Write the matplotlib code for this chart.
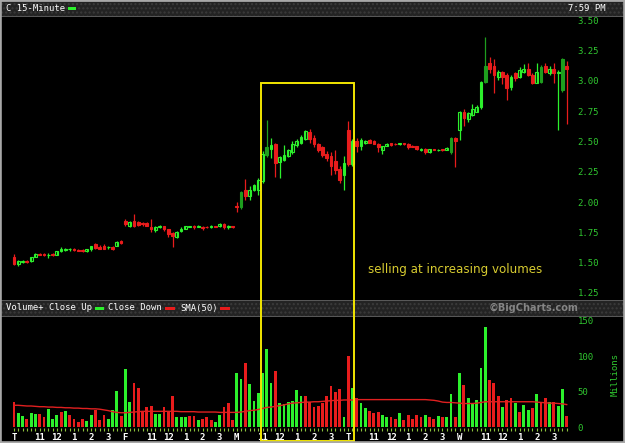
import numpy as np
import matplotlib
matplotlib.use('Agg')
import matplotlib.pyplot as plt
from matplotlib.patches import Rectangle

FIG_W, FIG_H = 625, 443

DAYS = ['T', 'F', 'M', 'T', 'W']
HOURS = ['11', '12', '1', '2', '3']
BARS_PER_DAY = 26
HOUR_BARS = [6, 10, 14, 18, 22]  # 15-minute bars after the 9:30 open

# one block per trading day, 26 bars each
OPEN = [
    1.55, 1.49, 1.505, 1.515, 1.51, 1.55, 1.575, 1.57, 1.565, 1.57, 1.565, 1.595, 1.605,
    1.61, 1.615, 1.605, 1.605, 1.595, 1.61, 1.65, 1.625, 1.64, 1.625, 1.625, 1.64, 1.675,
    1.845, 1.80, 1.84, 1.835, 1.83, 1.825, 1.795, 1.77, 1.79, 1.80, 1.775, 1.745, 1.715,
    1.76, 1.78, 1.795, 1.80, 1.795, 1.795, 1.795, 1.79, 1.80, 1.80, 1.82, 1.795, 1.80,
    1.97, 1.955, 2.10, 2.05, 2.10, 2.10, 2.17, 2.385, 2.44, 2.48, 2.33, 2.35, 2.38,
    2.41, 2.47, 2.49, 2.52, 2.58, 2.53, 2.48, 2.45, 2.40, 2.38, 2.34, 2.27, 2.22,
    2.59, 2.31, 2.50, 2.46, 2.49, 2.51, 2.50, 2.48, 2.43, 2.465, 2.485, 2.48, 2.475,
    2.485, 2.48, 2.465, 2.46, 2.425, 2.44, 2.41, 2.435, 2.43, 2.435, 2.43, 2.41, 2.53,
    2.59, 2.74, 2.685, 2.72, 2.745, 2.78, 2.99, 3.15, 3.12, 3.03, 3.07, 3.05, 2.95,
    3.06, 3.03, 3.07, 3.10, 3.05, 2.985, 2.99, 3.12, 3.06, 3.10, 3.065, 2.92, 3.12,
]
HIGH = [
    1.57, 1.52, 1.52, 1.52, 1.55, 1.58, 1.58, 1.58, 1.58, 1.58, 1.60, 1.625, 1.62,
    1.62, 1.62, 1.61, 1.61, 1.615, 1.64, 1.66, 1.645, 1.655, 1.64, 1.635, 1.675, 1.685,
    1.86, 1.845, 1.90, 1.845, 1.835, 1.835, 1.86, 1.80, 1.81, 1.805, 1.78, 1.75, 1.76,
    1.79, 1.80, 1.805, 1.81, 1.81, 1.80, 1.80, 1.81, 1.80, 1.825, 1.825, 1.81, 1.80,
    2.00, 2.09, 2.19, 2.13, 2.15, 2.20, 2.42, 2.68, 2.53, 2.49, 2.38, 2.47, 2.44,
    2.50, 2.52, 2.55, 2.59, 2.60, 2.55, 2.49, 2.46, 2.42, 2.41, 2.43, 2.30, 2.38,
    2.67, 2.52, 2.53, 2.53, 2.51, 2.52, 2.51, 2.49, 2.465, 2.49, 2.49, 2.485, 2.49,
    2.49, 2.485, 2.47, 2.465, 2.445, 2.445, 2.44, 2.44, 2.44, 2.44, 2.45, 2.535, 2.535,
    2.75, 2.77, 2.74, 2.81, 2.80, 3.00, 3.36, 3.20, 3.18, 3.09, 3.08, 3.06, 3.05,
    3.07, 3.11, 3.14, 3.15, 3.06, 3.15, 3.13, 3.15, 3.12, 3.15, 3.09, 3.19, 3.16,
]
LOW = [
    1.48, 1.47, 1.50, 1.50, 1.505, 1.545, 1.56, 1.555, 1.54, 1.555, 1.56, 1.585, 1.595,
    1.60, 1.60, 1.595, 1.59, 1.59, 1.60, 1.615, 1.61, 1.61, 1.615, 1.605, 1.635, 1.655,
    1.80, 1.79, 1.79, 1.80, 1.805, 1.80, 1.75, 1.75, 1.785, 1.765, 1.71, 1.63, 1.70,
    1.755, 1.775, 1.79, 1.78, 1.79, 1.77, 1.785, 1.785, 1.79, 1.795, 1.78, 1.775, 1.785,
    1.92, 1.94, 2.02, 2.02, 2.09, 2.06, 2.16, 2.37, 2.36, 2.21, 2.20, 2.34, 2.37,
    2.40, 2.45, 2.48, 2.51, 2.49, 2.45, 2.41, 2.37, 2.34, 2.22, 2.23, 2.16, 2.10,
    2.30, 2.30, 2.41, 2.43, 2.48, 2.485, 2.475, 2.41, 2.40, 2.46, 2.46, 2.47, 2.47,
    2.47, 2.44, 2.45, 2.43, 2.42, 2.40, 2.405, 2.425, 2.42, 2.42, 2.425, 2.40, 2.29,
    2.51, 2.63, 2.66, 2.71, 2.74, 2.77, 2.98, 3.06, 2.90, 3.01, 2.97, 2.84, 2.92,
    3.00, 3.02, 3.06, 3.04, 2.975, 2.98, 2.98, 3.06, 3.05, 2.98, 2.59, 2.91, 2.64,
]
CLOSE = [
    1.49, 1.51, 1.515, 1.505, 1.545, 1.575, 1.565, 1.56, 1.565, 1.56, 1.595, 1.61, 1.615,
    1.615, 1.605, 1.60, 1.595, 1.61, 1.635, 1.62, 1.615, 1.615, 1.625, 1.615, 1.67, 1.665,
    1.815, 1.835, 1.80, 1.81, 1.815, 1.805, 1.775, 1.79, 1.80, 1.775, 1.735, 1.72, 1.755,
    1.78, 1.80, 1.80, 1.79, 1.80, 1.785, 1.79, 1.805, 1.795, 1.82, 1.795, 1.80, 1.79,
    1.96, 2.08, 2.05, 2.10, 2.14, 2.18, 2.40, 2.45, 2.47, 2.32, 2.37, 2.39, 2.43,
    2.48, 2.50, 2.54, 2.585, 2.52, 2.48, 2.43, 2.39, 2.36, 2.30, 2.26, 2.18, 2.32,
    2.31, 2.50, 2.46, 2.51, 2.505, 2.49, 2.48, 2.45, 2.46, 2.475, 2.47, 2.475, 2.485,
    2.475, 2.455, 2.455, 2.44, 2.44, 2.41, 2.435, 2.43, 2.43, 2.425, 2.445, 2.53, 2.50,
    2.74, 2.69, 2.73, 2.77, 2.78, 2.99, 3.12, 3.10, 3.05, 3.07, 3.03, 2.94, 3.03,
    3.02, 3.09, 3.10, 3.05, 2.98, 3.07, 3.11, 3.07, 3.10, 3.06, 3.075, 3.18, 3.10,
]
SOLID = [53, 59, 102, 110, 123, 128]  # bars drawn as filled dark green bodies

# volume in millions, and its colour: g = close up, r = close down
VOLUME = [
    35, 20, 16, 12, 20, 19, 19, 14, 26, 11, 17, 22, 23,
    17, 12, 8, 12, 9, 17, 25, 10, 18, 12, 24, 51, 16,
    82, 36, 63, 55, 22, 29, 30, 19, 19, 29, 23, 44, 15,
    14, 14, 16, 16, 10, 12, 14, 10, 8, 17, 28, 34, 10,
    77, 68, 91, 61, 37, 49, 77, 110, 63, 79, 34, 33, 36,
    37, 53, 44, 44, 35, 28, 30, 34, 44, 58, 50, 54, 14,
    100, 56, 41, 34, 27, 23, 20, 21, 18, 14, 14, 12, 20,
    10, 18, 12, 18, 15, 18, 14, 11, 16, 14, 14, 47, 14,
    77, 60, 41, 34, 39, 83, 141, 67, 62, 44, 28, 38, 41,
    34, 22, 31, 24, 27, 47, 36, 41, 36, 35, 30, 54, 16,
]
VOL_DIR = ('rggrggrrgggrgrrrrggrrrgggr'
           'ggrrrrrggrrrgggrrgrrrggrrr'
           'ggrggggggrggggggrrrrrrrrrg'
           'rgrggrrrggrrgrrrrrgrrgrggr'
           'grgggggrrrgrrgrggrgrrgrggr')

SMA50 = [
    31, 31, 30.5, 30, 30, 29.5, 29, 29, 28.5, 28.5, 28, 28, 27.5,
    27.5, 27, 27, 26.5, 26.5, 26, 26, 25.5, 24.5, 23.5, 22, 21, 20.5,
    20.5, 21, 21.5, 22, 22.5, 22.5, 22.5, 22.5, 22.5, 22.5, 22.5, 22.5, 22.5,
    22, 22, 22, 22, 21.5, 21.5, 21.5, 21.5, 21.5, 21, 21, 21, 21,
    21, 21.5, 22.5, 23.5, 24, 25, 26.5, 28, 28.5, 29.5, 30.5, 31.5, 33,
    34, 34.5, 35, 35.5, 35.5, 36, 36, 36.5, 37, 37.5, 38, 38, 38.5,
    38.5, 38.5, 39, 39, 39, 39, 39, 39, 39, 39, 39, 39, 39,
    39, 39, 39, 39, 39, 39, 38.5, 38, 37, 35.5, 35, 35, 34.5,
    34, 33.5, 33.5, 33.5, 34, 35, 36, 36, 36, 36, 36, 36, 36,
    36, 36, 36, 36, 36, 35.5, 35, 34.5, 34, 34, 33.5, 33, 32,
]

PRICE_TICKS = [1.25, 1.50, 1.75, 2.00, 2.25, 2.50, 2.75, 3.00, 3.25, 3.50]
VOL_TICKS = [0, 50, 100, 150]
HIGHLIGHT = (57.6, 79.25, 2.98)  # first bar, last bar, top price of the box
NOTE = 'selling at increasing volumes'

GREEN = '#2cf02c'
DARK_GREEN = '#1e9e1e'
RED = '#e81c1c'
LABEL_GREEN = '#30c830'
YELLOW = '#f2e600'
MONO = 'DejaVu Sans Mono'


def frac(x0, y0, x1, y1):
    '''
    Pixel box with a top-left origin to a figure-fraction rect.
    '''
    return [x0 / FIG_W, 1 - y1 / FIG_H, (x1 - x0) / FIG_W, (y1 - y0) / FIG_H]


def band(fig, y0, y1):
    '''
    Draws one of the textured grey title bars.
    '''
    r = frac(0, y0, FIG_W, y1)
    fig.add_artist(Rectangle((r[0], r[1]), r[2], r[3], transform=fig.transFigure,
                             facecolor='#232323', edgecolor='#3b3b3b',
                             hatch='....', lw=0, zorder=1))
    for y in (y0, y1):
        fig.add_artist(plt.Line2D([0, 1], [1 - y / FIG_H] * 2, color='#5a5a5a',
                                  lw=0.7, transform=fig.transFigure, zorder=2))


def swatch(fig, x0, x1, y, color):
    '''
    Small legend bar in a title bar.
    '''
    r = frac(x0, y - 1.5, x1, y + 1.5)
    fig.add_artist(Rectangle((r[0], r[1]), r[2], r[3], transform=fig.transFigure,
                             facecolor=color, lw=0, zorder=3))


def main():
    x = np.arange(len(CLOSE))
    o, h, l, c = (np.array(v) for v in (OPEN, HIGH, LOW, CLOSE))

    fig = plt.figure(figsize=(FIG_W / 100, FIG_H / 100), dpi=100, facecolor='black')
    ax_p = fig.add_axes(frac(5, 16, 577, 300))
    ax_v = fig.add_axes(frac(5, 316, 577, 428))

    for ax in (ax_p, ax_v):
        ax.set_facecolor('black')
        for s in ax.spines.values():
            s.set_visible(False)
        ax.set_xlim(-2.1, 131.4)
        ax.yaxis.tick_right()

    # candles
    up = c >= o
    solid = np.isin(x, SOLID)
    col = np.where(solid, DARK_GREEN, np.where(up, GREEN, RED))
    face = np.where(up & ~solid, 'black', col)
    ax_p.vlines(x, l, h, colors=col, lw=0.9)
    ax_p.bar(x, np.abs(c - o), 0.64, np.minimum(o, c), color=face,
             edgecolor=col, linewidth=0.8)
    ax_p.set_ylim(1.192, 3.534)
    ax_p.set_xticks([])
    ax_p.set_yticks(PRICE_TICKS, ['{:.2f}'.format(t) for t in PRICE_TICKS])
    ax_p.text(82.6, 1.44, NOTE, color='#d8cc30', fontsize=8.6, va='center')

    # volume
    vcol = [GREEN if d == 'g' else RED for d in VOL_DIR]
    ax_v.bar(x, VOLUME, 0.66, color=vcol, lw=0)
    ax_v.plot(x, SMA50, color='#e02020', lw=1.0)
    ax_v.set_ylim(-1.0, 156.8)
    ax_v.set_yticks(VOL_TICKS, [str(t) for t in VOL_TICKS])

    ticks, labels = [], []
    for d, day in enumerate(DAYS):
        base = d * BARS_PER_DAY
        ticks.append(base)
        labels.append(day)
        for hb, hl in zip(HOUR_BARS, HOURS):
            ticks.append(base + hb)
            labels.append(hl)
    ax_v.set_xticks(ticks, labels)
    ax_v.set_xticks(x, minor=True)
    ax_v.xaxis.remove_overlapping_locs = False
    ax_v.tick_params(axis='x', which='major', length=0, pad=3.5,
                     labelcolor='white', labelsize=6.5)
    ax_v.tick_params(axis='x', which='minor', length=2.2, width=0.8, color='#8cbf3c')
    for lbl in ax_v.get_xticklabels():
        lbl.set_fontweight('bold')
        lbl.set_family(MONO)

    for ax in (ax_p, ax_v):
        ax.tick_params(axis='y', length=0, pad=0.5, labelcolor=LABEL_GREEN, labelsize=6.5)
        for lbl in ax.get_yticklabels():
            lbl.set_family(MONO)

    fig.text(615 / FIG_W, 1 - 374 / FIG_H, 'Millions', rotation=90, color=LABEL_GREEN,
             family=MONO, fontsize=6.5, ha='center', va='center')

    # header and separator bars
    band(fig, 1, 16)
    band(fig, 300, 316)
    txt = dict(color='white', family=MONO, fontsize=6.4, va='center', zorder=4)
    fig.text(6 / FIG_W, 1 - 8.5 / FIG_H, 'C 15-Minute', **txt)
    swatch(fig, 68, 76, 8.5, GREEN)
    fig.text(606 / FIG_W, 1 - 8.5 / FIG_H, '7:59 PM', ha='right', **txt)
    fig.text(6 / FIG_W, 1 - 308 / FIG_H, 'Volume+ Close Up', **txt)
    swatch(fig, 95, 104, 308, GREEN)
    fig.text(108 / FIG_W, 1 - 308 / FIG_H, 'Close Down', **txt)
    swatch(fig, 165, 175, 308, RED)
    fig.text(180 / FIG_W, 1 - 308 / FIG_H, 'SMA(50)', **txt)
    swatch(fig, 220, 230, 308, RED)
    fig.text(489 / FIG_W, 1 - 308 / FIG_H, '\u00a9BigCharts.com', color='#858585',
             fontsize=7, fontweight='bold', va='center', zorder=4)

    # highlight box from the price panel down through the volume panel
    x0, x1, ptop = HIGHLIGHT
    to_fig = fig.transFigure.inverted()
    fx0, fy1 = to_fig.transform(ax_p.transData.transform((x0, ptop)))
    fx1, _ = to_fig.transform(ax_p.transData.transform((x1, ptop)))
    fy0 = 2.5 / FIG_H
    fig.add_artist(Rectangle((fx0, fy0), fx1 - fx0, fy1 - fy0, transform=fig.transFigure,
                             fill=False, edgecolor=YELLOW, lw=1.4, zorder=10))

    # outer frame
    fig.add_artist(Rectangle((0, 0), 1, 1, transform=fig.transFigure, fill=False,
                             edgecolor='#a8a8a8', lw=2.6, zorder=11))

    fig.savefig('out.png', dpi=100, facecolor='black')


if __name__ == '__main__':
    main()
